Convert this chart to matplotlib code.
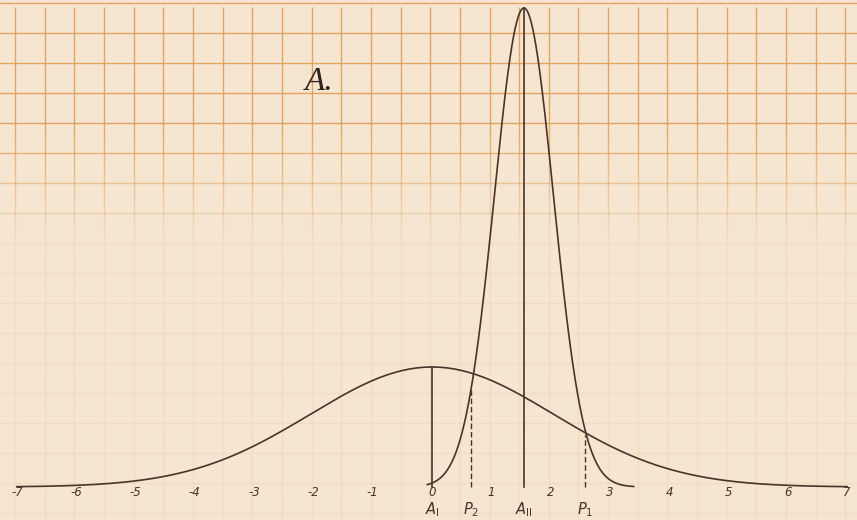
import numpy as np
import matplotlib
matplotlib.use("Agg")
import matplotlib.pyplot as plt
from matplotlib.collections import LineCollection

# curve parameters (x in units, heights in pixels above baseline)
curve_names = ["I", "II"]
curve_centres = [0.0, 1.55]
curve_spreads = [2.05, 0.5]
curve_peaks = [120, 479]
curve_ranges = [(-7.0, 7.0), (-0.08, 3.4)]

tick_values = [-7, -6, -5, -4, -3, -2, -1, 0, 1, 2, 3, 4, 5, 6, 7]
tick_labels = ["-7", "-6", "-5", "-4", "-3", "-2", "-1", "0", "1", "2", "3", "4", "5", "6", "7"]

marker_x = [0.0, 1.55, 0.66, 2.58]
marker_heights = [120, 479, 97, 52]
marker_styles = ["solid", "solid", "dashed", "dashed"]
marker_labels = [r"$A_{\mathrm{I}}$", r"$A_{\mathrm{II}}$", r"$P_2$", r"$P_1$"]

PAPER = "#f6e5d0"
GRID = "#e2a15c"
INK = "#4a3329"


def curve(i, x):
    return curve_peaks[i] * np.exp(-0.5 * ((x - curve_centres[i]) / curve_spreads[i]) ** 2)


def grid_alpha(y):
    # the scan is sharp at the top and washed out lower down
    return float(np.clip((y - 230) / 140, 0.12, 0.95))


def draw_paper(ax):
    segs = []
    alphas = []
    ys = np.arange(-40, 490, 10)
    for gx in np.arange(-7.5, 7.6, 0.5):
        for y0, y1 in zip(ys[:-1], ys[1:]):
            segs.append([(gx - 0.03, y0), (gx - 0.03, y1)])
            alphas.append(grid_alpha((y0 + y1) / 2))
    for gy in np.arange(484, -40, -30):
        segs.append([(-7.5, gy), (7.5, gy)])
        alphas.append(grid_alpha(gy))
    colors = [matplotlib.colors.to_rgba(GRID, a) for a in alphas]
    ax.add_collection(LineCollection(segs, colors=colors, linewidths=1.0, zorder=0))


def plot_chart():
    plt.rcParams["mathtext.fontset"] = "dejavusans"
    fig = plt.figure(figsize=(8.57, 5.2), dpi=100)
    fig.patch.set_facecolor(PAPER)
    ax = fig.add_axes([0, 0, 1, 1])
    ax.set_facecolor(PAPER)
    ax.set_xlim(-7.285, 7.167)
    ax.set_ylim(-33, 487)
    ax.axis("off")

    draw_paper(ax)

    for i in range(len(curve_names)):
        lo, hi = curve_ranges[i]
        xs = np.linspace(lo, hi, 600)
        ax.plot(xs, curve(i, xs), color=INK, lw=1.2, zorder=3)

    for x, h, ls in zip(marker_x, marker_heights, marker_styles):
        if ls == "dashed":
            ax.plot([x, x], [0, h], color=INK, lw=1.0, dashes=(4, 2), zorder=3)
        else:
            ax.plot([x, x], [0, h], color=INK, lw=1.2, zorder=3)

    for v, lab in zip(tick_values, tick_labels):
        ax.text(v, -6, lab, ha="center", va="center", fontsize=8.5,
                family="DejaVu Sans", style="italic", color=INK)

    for x, lab in zip(marker_x, marker_labels):
        ax.text(x, -23, lab, ha="center", va="center", fontsize=10.5, color=INK)

    ax.text(-1.9, 405, "A.", ha="center", va="center", fontsize=24,
            family="Liberation Serif", style="italic", color="#2e2420")

    fig.savefig("out.png", dpi=100, facecolor=PAPER)


def main():
    plot_chart()


if __name__ == "__main__":
    main()
